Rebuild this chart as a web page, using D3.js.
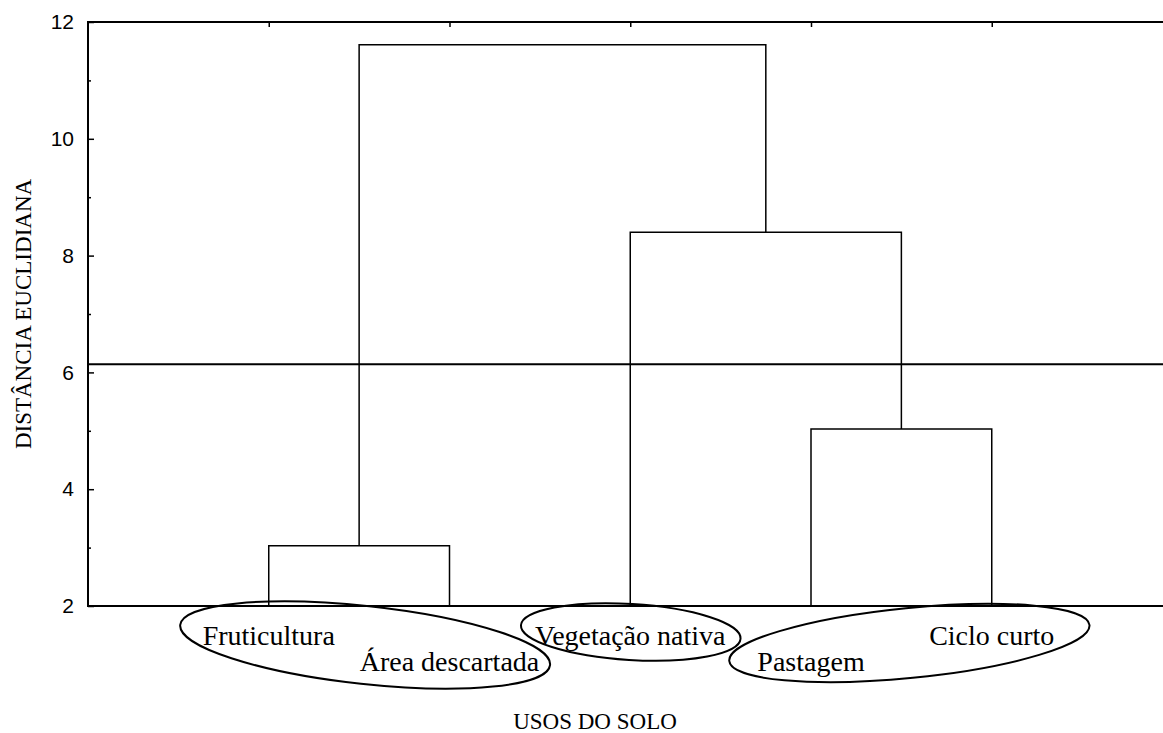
<!DOCTYPE html>
<html>
<head>
<meta charset="utf-8">
<script src="https://cdn.jsdelivr.net/npm/d3@7"></script>
<style>
  body { margin: 0; background: #fff; }
  .serif { font-family: "Liberation Serif", "Times New Roman", serif; }
  .tick text { font-family: "Liberation Sans", Arial, sans-serif; font-size: 21px; fill: #000; }
</style>
</head>
<body>
<div id="chart"></div>
<script>
// Leaves of the dendrogram, left to right
var leaves = ["Fruticultura", "Área descartada", "Vegetação nativa", "Pastagem", "Ciclo curto"];
// label row under the axis (0 = upper, 1 = lower)
var leafRow = [0, 1, 0, 1, 0];

// Merges: ids 0-4 are leaves, new clusters get ids 5, 6, 7, 8
var mergeA = [0, 3, 2, 5];
var mergeB = [1, 4, 6, 7];
var mergeDist = [3.03, 5.03, 8.40, 11.61];

var cutDistance = 6.14;

var yTicks = [2, 4, 6, 8, 10, 12];
var yMinorTicks = [3, 5, 7, 9, 11];

// groups circled below the axis
var groups = [[0, 1], [2], [3, 4]];

var svgWidth = 1163;
var svgHeight = 733;
var margin = { top: 22, left: 88, bottom: 127 };
var height = svgHeight - margin.top - margin.bottom;

var svg = d3.select("#chart")
  .append("svg")
  .attr("width", svgWidth)
  .attr("height", svgHeight);

var x = d3.scaleLinear()
  .domain([0, leaves.length + 1])
  .range([margin.left, margin.left + 6 * 180.75]);

var y = d3.scaleLinear()
  .domain([2, 12])
  .range([margin.top + height, margin.top]);

// node positions
var nodeX = leaves.map((d, i) => x(i + 1));
var nodeH = leaves.map(() => 2);
mergeA.forEach(function(a, i) {
  var b = mergeB[i];
  nodeX.push((nodeX[a] + nodeX[b]) / 2);
  nodeH.push(mergeDist[i]);
});

// frame (right edge falls just outside the picture)
svg.append("rect")
  .attr("x", x(0))
  .attr("y", y(12))
  .attr("width", x(6) - x(0))
  .attr("height", y(2) - y(12))
  .attr("fill", "none")
  .attr("stroke", "#000")
  .attr("stroke-width", 2);

// left axis, ticks pointing inward
var leftAxis = d3.axisLeft(y)
  .tickValues(yTicks)
  .tickSize(-6)
  .tickSizeOuter(0)
  .tickPadding(14)
  .tickFormat(d3.format("d"));

var gy = svg.append("g")
  .attr("transform", `translate(${x(0)},0)`)
  .call(leftAxis);
gy.select(".domain").remove();
gy.selectAll(".tick line").attr("stroke-width", 1.5);

var minorAxis = d3.axisLeft(y)
  .tickValues(yMinorTicks)
  .tickSize(-3)
  .tickSizeOuter(0)
  .tickFormat("");

var gm = svg.append("g")
  .attr("transform", `translate(${x(0)},0)`)
  .call(minorAxis);
gm.select(".domain").remove();
gm.selectAll(".tick line").attr("stroke-width", 1.5);

// top axis ticks at leaf positions
var topAxis = d3.axisTop(x)
  .tickValues(d3.range(1, leaves.length + 1))
  .tickSize(-5)
  .tickSizeOuter(0)
  .tickFormat("");

var gt = svg.append("g")
  .attr("transform", `translate(0,${y(12)})`)
  .call(topAxis);
gt.select(".domain").remove();
gt.selectAll(".tick line").attr("stroke-width", 1.5);

// dendrogram links
svg.append("g")
  .selectAll("path")
  .data(mergeA.map((a, i) => ({ a: a, b: mergeB[i], h: mergeDist[i] })))
  .enter()
  .append("path")
  .attr("d", d => `M${nodeX[d.a]},${y(nodeH[d.a])}V${y(d.h)}H${nodeX[d.b]}V${y(nodeH[d.b])}`)
  .attr("fill", "none")
  .attr("stroke", "#000")
  .attr("stroke-width", 1.5);

// cut line
svg.append("line")
  .attr("x1", x(0))
  .attr("x2", svgWidth)
  .attr("y1", y(cutDistance))
  .attr("y2", y(cutDistance))
  .attr("stroke", "#000")
  .attr("stroke-width", 2);

// ellipses round the groups
var ellipseStyle = [
  { dx: 6, cy: 645, rx: 186, ry: 39, rot: 6.2 },
  { dx: 0.5, cy: 632, rx: 110, ry: 28, rot: 3.5 },
  { dx: 8, cy: 643, rx: 181, ry: 35, rot: -5.7 }
];

svg.append("g")
  .selectAll("ellipse")
  .data(groups)
  .enter()
  .append("ellipse")
  .attr("transform", function(g, i) {
    var s = ellipseStyle[i];
    var cx = d3.mean(g, k => nodeX[k]) + s.dx;
    return `translate(${cx},${s.cy}) rotate(${s.rot})`;
  })
  .attr("rx", (g, i) => ellipseStyle[i].rx)
  .attr("ry", (g, i) => ellipseStyle[i].ry)
  .attr("fill", "none")
  .attr("stroke", "#000")
  .attr("stroke-width", 2);

// leaf labels
svg.append("g")
  .selectAll("text")
  .data(leaves)
  .enter()
  .append("text")
  .classed("serif", true)
  .attr("x", (d, i) => nodeX[i])
  .attr("y", (d, i) => y(2) + 39 + leafRow[i] * 26)
  .attr("text-anchor", "middle")
  .style("font-size", "28px")
  .text(d => d);

// axis titles
svg.append("text")
  .classed("serif", true)
  .attr("x", 595)
  .attr("y", 729)
  .attr("text-anchor", "middle")
  .style("font-size", "23px")
  .text("USOS DO SOLO");

svg.append("text")
  .classed("serif", true)
  .attr("transform", "translate(31,314) rotate(-90)")
  .attr("text-anchor", "middle")
  .style("font-size", "23px")
  .text("DISTÂNCIA EUCLIDIANA");
</script>
</body>
</html>
